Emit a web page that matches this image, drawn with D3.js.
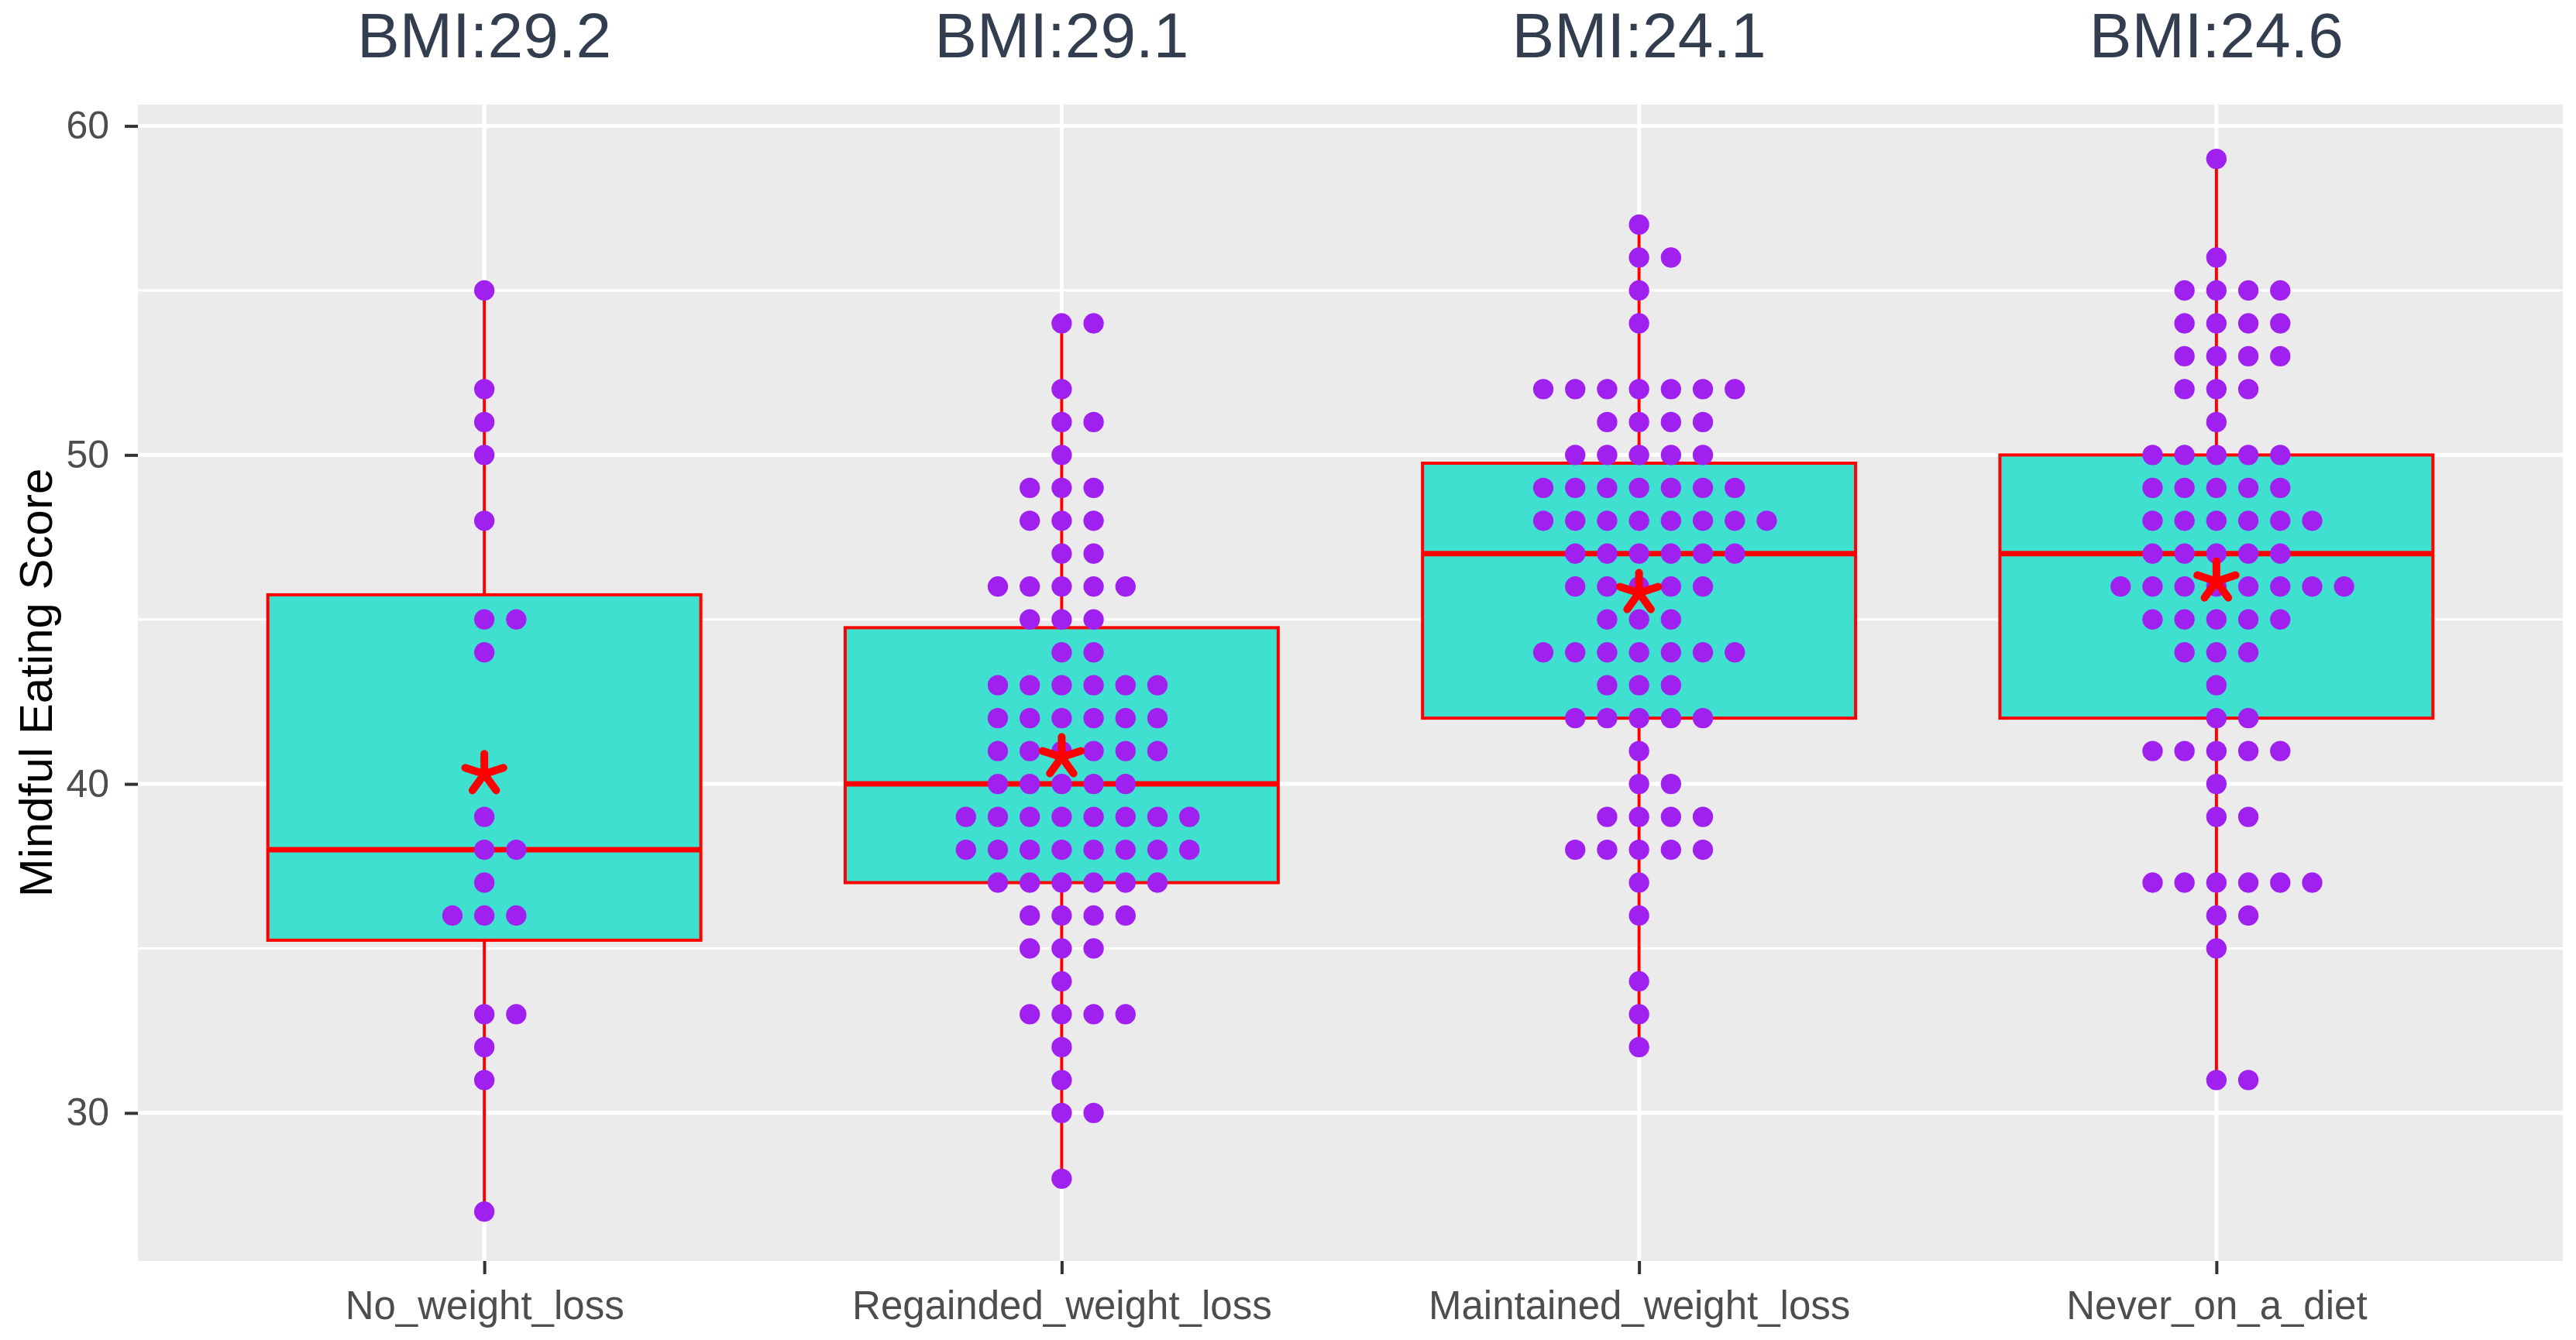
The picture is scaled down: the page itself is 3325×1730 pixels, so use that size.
<!DOCTYPE html>
<html>
<head>
<meta charset="utf-8">
<script src="https://cdn.jsdelivr.net/npm/d3@7"></script>
<style>
  body { margin: 0; background: #fff; }
  text { font-family: "Liberation Sans", Arial, sans-serif; }
</style>
</head>
<body>
<div class="chart-container"></div>
<script>
const groups = ["No_weight_loss", "Regainded_weight_loss", "Maintained_weight_loss", "Never_on_a_diet"];
const bmiLabels = ["BMI:29.2", "BMI:29.1", "BMI:24.1", "BMI:24.6"];

// [score, number of dots at that score]
const noWeightLoss = [[55,1],[52,1],[51,1],[50,1],[48,1],[45,2],[44,1],[39,1],[38,2],[37,1],[36,3],[33,2],[32,1],[31,1],[27,1]];
const regainedWeightLoss = [[54,2],[52,1],[51,2],[50,1],[49,3],[48,3],[47,2],[46,5],[45,3],[44,2],[43,6],[42,6],[41,6],[40,5],[39,8],[38,8],[37,6],[36,4],[35,3],[34,1],[33,4],[32,1],[31,1],[30,2],[28,1]];
const maintainedWeightLoss = [[57,1],[56,2],[55,1],[54,1],[52,7],[51,4],[50,5],[49,7],[48,8],[47,6],[46,5],[45,3],[44,7],[43,3],[42,5],[41,1],[40,2],[39,4],[38,5],[37,1],[36,1],[34,1],[33,1],[32,1]];
const neverOnADiet = [[59,1],[56,1],[55,4],[54,4],[53,4],[52,3],[51,1],[50,5],[49,5],[48,6],[47,5],[46,8],[45,5],[44,3],[43,1],[42,2],[41,5],[40,1],[39,2],[37,6],[36,2],[35,1],[31,2]];

const yTicks = [30, 40, 50, 60];
const yMinorTicks = [35, 45, 55];
const yDomain = [25.5, 60.65];

const counts = [noWeightLoss, regainedWeightLoss, maintainedWeightLoss, neverOnADiet];

const W = 3325, H = 1730;
const margin = { left: 178, right: 17, top: 135, bottom: 102 };
const width = W - margin.left - margin.right;
const height = H - margin.top - margin.bottom;

const svg = d3.select(".chart-container")
  .append("svg")
  .attr("width", W)
  .attr("height", H);

const g = svg.append("g")
  .attr("transform", "translate(" + margin.left + "," + margin.top + ")");

// discrete x like ggplot: 0.6 expansion each side
const x = d3.scalePoint().domain(groups).range([0, width]).padding(0.6);
const step = x.step();
const y = d3.scaleLinear().domain(yDomain).range([height, 0]);

// panel
g.append("rect").attr("width", width).attr("height", height).attr("fill", "#EBEBEB");

g.selectAll(".minor").data(yMinorTicks).enter().append("line")
  .attr("x1", 0).attr("x2", width)
  .attr("y1", d => y(d)).attr("y2", d => y(d))
  .attr("stroke", "#fff").attr("stroke-width", 3);
g.selectAll(".major").data(yTicks).enter().append("line")
  .attr("x1", 0).attr("x2", width)
  .attr("y1", d => y(d)).attr("y2", d => y(d))
  .attr("stroke", "#fff").attr("stroke-width", 5);
g.selectAll(".vgrid").data(groups).enter().append("line")
  .attr("x1", d => x(d)).attr("x2", d => x(d))
  .attr("y1", 0).attr("y2", height)
  .attr("stroke", "#fff").attr("stroke-width", 5);

// boxplots
const boxW = step * 0.75;
const stats = counts.map((c, i) => {
  const vals = [];
  c.forEach(([v, n]) => { for (let k = 0; k < n; k++) vals.push(v); });
  vals.sort(d3.ascending);
  const q1 = d3.quantile(vals, 0.25), med = d3.quantile(vals, 0.5), q3 = d3.quantile(vals, 0.75);
  const iqr = q3 - q1;
  const lo = d3.min(vals.filter(v => v >= q1 - 1.5 * iqr));
  const hi = d3.max(vals.filter(v => v <= q3 + 1.5 * iqr));
  return { group: groups[i], q1, med, q3, lo, hi, mean: d3.mean(vals) };
});

const box = g.selectAll(".box").data(stats).enter().append("g");
box.append("line")
  .attr("x1", d => x(d.group)).attr("x2", d => x(d.group))
  .attr("y1", d => y(d.hi)).attr("y2", d => y(d.q3))
  .attr("stroke", "red").attr("stroke-width", 4);
box.append("line")
  .attr("x1", d => x(d.group)).attr("x2", d => x(d.group))
  .attr("y1", d => y(d.q1)).attr("y2", d => y(d.lo))
  .attr("stroke", "red").attr("stroke-width", 4);
box.append("rect")
  .attr("x", d => x(d.group) - boxW / 2)
  .attr("y", d => y(d.q3))
  .attr("width", boxW)
  .attr("height", d => y(d.q1) - y(d.q3))
  .attr("fill", "#40E0D0").attr("stroke", "red").attr("stroke-width", 4);
box.append("line")
  .attr("x1", d => x(d.group) - boxW / 2).attr("x2", d => x(d.group) + boxW / 2)
  .attr("y1", d => y(d.med)).attr("y2", d => y(d.med))
  .attr("stroke", "red").attr("stroke-width", 7);

// dotplot, stacked "centerwhole"
const binPx = y(0) - y(1);
const dotStep = binPx * 0.97;
const dots = [];
counts.forEach((c, i) => {
  c.forEach(([v, n]) => {
    const shift = Math.floor((n - 1) / 2);
    for (let k = 0; k < n; k++) dots.push({ group: groups[i], value: v, off: k - shift });
  });
});
g.selectAll(".dot").data(dots).enter().append("circle")
  .attr("cx", d => x(d.group) + d.off * dotStep)
  .attr("cy", d => y(d.value))
  .attr("r", binPx * 0.31)
  .attr("fill", "#A020F0");

// mean asterisks
const armLen = 26;
const angles = [-90, -18, 54, 126, 198].map(a => a * Math.PI / 180);
const star = g.selectAll(".mean").data(stats).enter().append("g")
  .attr("transform", d => "translate(" + x(d.group) + "," + y(d.mean) + ")");
angles.forEach(a => {
  star.append("line")
    .attr("x1", 0).attr("y1", 0)
    .attr("x2", armLen * Math.cos(a)).attr("y2", armLen * Math.sin(a))
    .attr("stroke", "red").attr("stroke-width", 10).attr("stroke-linecap", "round");
});

// axes
const yAxis = g.append("g").call(d3.axisLeft(y).tickValues(yTicks).tickSize(17).tickPadding(20));
yAxis.select(".domain").remove();
yAxis.selectAll(".tick line").attr("stroke", "#333").attr("stroke-width", 4);
yAxis.selectAll(".tick text").attr("fill", "#4D4D4D").attr("font-size", 50)
  .attr("font-family", "Liberation Sans, Arial, sans-serif");

const xAxis = g.append("g").attr("transform", "translate(0," + height + ")")
  .call(d3.axisBottom(x).tickSize(17).tickPadding(22));
xAxis.select(".domain").remove();
xAxis.selectAll(".tick line").attr("stroke", "#333").attr("stroke-width", 4);
xAxis.selectAll(".tick text").attr("fill", "#4D4D4D").attr("font-size", 51)
  .attr("font-family", "Liberation Sans, Arial, sans-serif");

// y title
svg.append("text")
  .attr("transform", "translate(67," + (margin.top + height / 2) + ") rotate(-90)")
  .attr("text-anchor", "middle")
  .attr("font-size", 60)
  .attr("fill", "#000")
  .text("Mindful Eating Score");

// BMI labels
svg.selectAll(".bmi").data(groups).enter().append("text")
  .attr("x", d => margin.left + x(d))
  .attr("y", 74)
  .attr("text-anchor", "middle")
  .attr("font-size", 82)
  .attr("fill", "#323E4F")
  .text((d, i) => bmiLabels[i]);
</script>
</body>
</html>
